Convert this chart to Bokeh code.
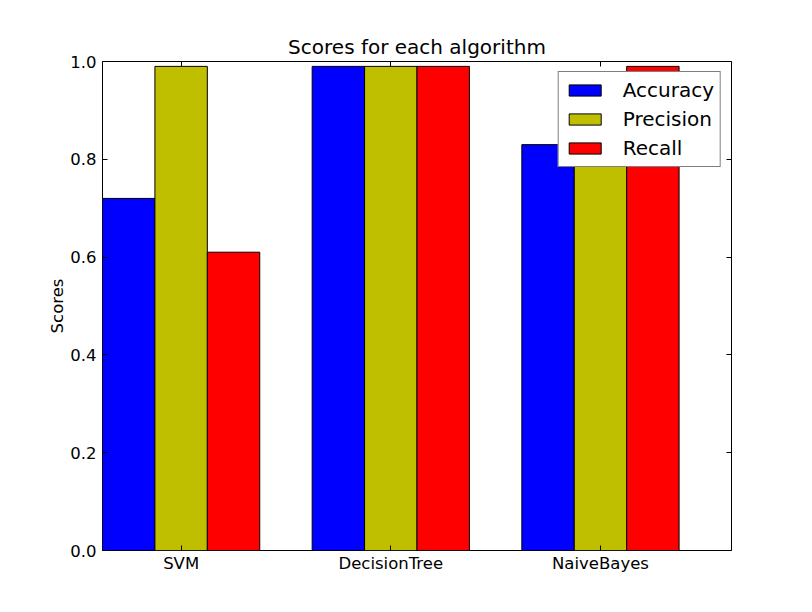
from bokeh.plotting import figure
from bokeh.models import ColumnDataSource, FixedTicker, LinearAxis, Range1d, Legend, LegendItem
from bokeh.embed import file_html
from bokeh.resources import INLINE

algorithms = ["SVM", "DecisionTree", "NaiveBayes"]
accuracy = [0.72, 0.99, 0.83]
precision = [0.99, 0.99, 0.85]
recall = [0.61, 0.99, 0.99]
series_names = ["Accuracy", "Precision", "Recall"]
series_colors = ["#0000ff", "#bfbf00", "#ff0000"]
y_ticks = [0.0, 0.2, 0.4, 0.6, 0.8, 1.0]

FONT = "DejaVu Sans"
bar_w = 0.25

p = figure(width=812, height=612, output_backend="svg", toolbar_location=None,
           x_range=Range1d(0, 3), y_range=Range1d(0, 1.0),
           min_border_left=102, min_border_right=81, min_border_top=61, min_border_bottom=62)
p.grid.visible = False
p.outline_line_color = "black"
p.outline_line_width = 1
p.background_fill_color = "white"

p.title.text = "Scores for each algorithm"
p.title.align = "center"
p.title.text_font = FONT
p.title.text_font_size = "20px"
p.title.text_font_style = "normal"
p.title.text_color = "black"
p.title.standoff = 5

items = []
for k, (vals, name, col) in enumerate(zip([accuracy, precision, recall], series_names, series_colors)):
    xs = [i + k * bar_w + bar_w / 2 for i in range(len(algorithms))]
    src = ColumnDataSource(dict(x=xs, top=vals))
    r = p.vbar(x="x", top="top", width=bar_w, source=src, fill_color=col,
               line_color="black", line_width=1)
    items.append(LegendItem(label=name, renderers=[r]))

tick_pos = [i + 1.5 * bar_w for i in range(len(algorithms))]

def style_axis(ax, labels=True):
    ax.major_tick_in = 5
    ax.major_tick_out = 0
    ax.minor_tick_in = 0
    ax.minor_tick_out = 0
    ax.axis_line_color = None
    ax.major_tick_line_color = "black"
    ax.major_label_text_font = FONT
    ax.major_label_text_font_size = "16.5px"
    ax.major_label_text_color = "black"
    if not labels:
        ax.major_label_text_alpha = 0

xa = p.xaxis[0]
xa.ticker = FixedTicker(ticks=tick_pos)
xa.major_label_overrides = {t: a for t, a in zip(tick_pos, algorithms)}
style_axis(xa)
xa.major_label_standoff = 3

ya = p.yaxis[0]
ya.ticker = FixedTicker(ticks=y_ticks)
ya.major_label_overrides = {t: f"{t:.1f}" for t in y_ticks}
style_axis(ya)
ya.major_label_standoff = 6
ya.axis_label = "Scores"
ya.axis_label_text_font = FONT
ya.axis_label_text_font_size = "16.5px"
ya.axis_label_text_font_style = "normal"
ya.axis_label_text_color = "black"
ya.axis_label_standoff = 0

ra = LinearAxis(ticker=FixedTicker(ticks=y_ticks))
style_axis(ra, labels=False)
p.add_layout(ra, "right")
ta = LinearAxis(ticker=FixedTicker(ticks=tick_pos))
style_axis(ta, labels=False)
p.add_layout(ta, "above")

leg = Legend(items=items, location="top_right")
leg.label_text_font = FONT
leg.label_text_font_size = "20px"
leg.label_text_color = "black"
leg.glyph_width = 40
leg.glyph_height = 14
leg.label_standoff = 18
leg.spacing = 5
leg.padding = 6
leg.margin = 10
leg.border_line_color = "black"
leg.border_line_width = 1
leg.background_fill_alpha = 1
p.add_layout(leg)

open("out.html", "w").write(file_html(p, INLINE))
